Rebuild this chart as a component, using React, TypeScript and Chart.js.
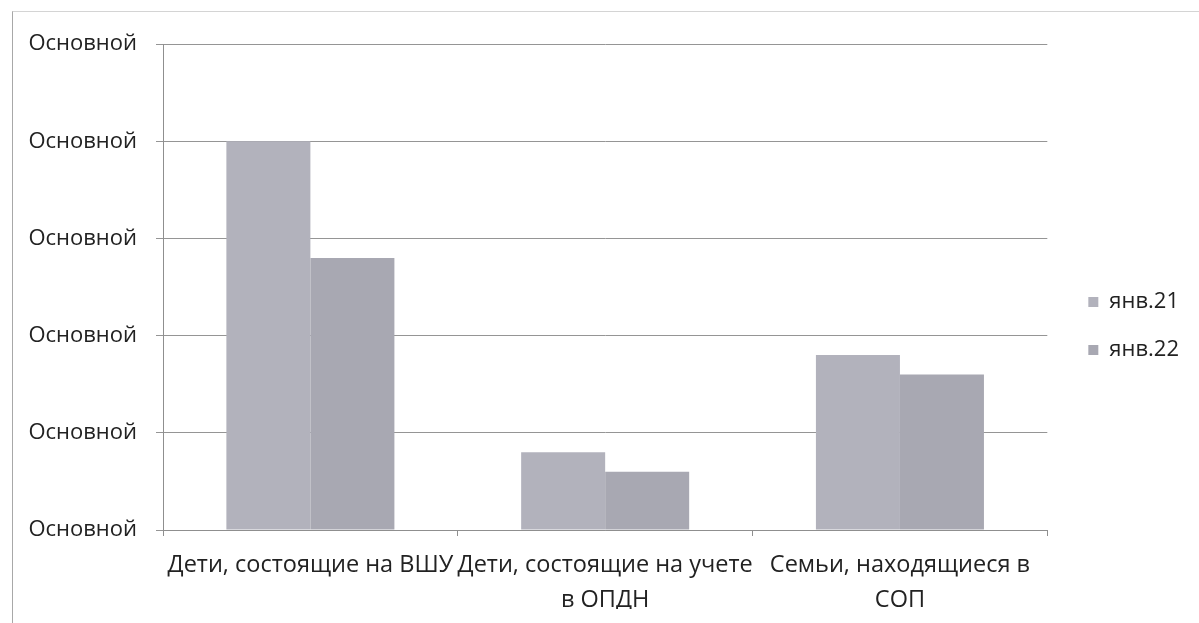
import React, { useEffect, useRef } from 'react';
import { Chart, registerables } from 'chart.js';

Chart.register(...registerables);

const categories: (string | string[])[] = [
  'Дети, состоящие на ВШУ',
  ['Дети, состоящие на учете', 'в ОПДН'],
  ['Семьи, находящиеся в', 'СОП'],
];
const seriesNames = ['янв.21', 'янв.22'];
const jan21Values = [20, 4, 9];
const jan22Values = [14, 3, 8];
const yMin = 0;
const yMax = 25;
const yStep = 5;
const yTickLabel = 'Основной';

const FONT = '"Open Sans", "Noto Sans", sans-serif';
const TEXT = '#222222';

export default function App() {
  const ref = useRef<HTMLCanvasElement | null>(null);

  useEffect(() => {
    if (!ref.current) return;
    const chart = new Chart(ref.current, {
      type: 'bar',
      data: {
        labels: categories,
        datasets: [
          {
            label: seriesNames[0],
            data: jan21Values,
            backgroundColor: 'rgb(178,178,188)',
            borderWidth: 0,
            categoryPercentage: 0.57,
            barPercentage: 1,
          },
          {
            label: seriesNames[1],
            data: jan22Values,
            backgroundColor: 'rgb(168,168,178)',
            borderWidth: 0,
            categoryPercentage: 0.57,
            barPercentage: 1,
          },
        ],
      },
      options: {
        responsive: false,
        animation: false,
        events: [],
        layout: { padding: { top: 31, right: 10, bottom: 14, left: 0 } },
        plugins: {
          title: { display: false },
          tooltip: { enabled: false },
          legend: {
            display: true,
            position: 'right',
            align: 'center',
            labels: {
              boxWidth: 10,
              boxHeight: 10,
              padding: 26,
              color: TEXT,
              font: { family: FONT, size: 22 },
            },
          },
        },
        scales: {
          x: {
            type: 'category',
            offset: true,
            grid: {
              offset: true,
              drawOnChartArea: false,
              drawTicks: true,
              tickLength: 6,
              color: '#8f8f8f',
            },
            border: { display: true, color: '#8f8f8f', width: 1 },
            ticks: {
              color: TEXT,
              font: { family: FONT, size: 23.5, lineHeight: '35px' },
              padding: 12,
              maxRotation: 0,
              minRotation: 0,
              autoSkip: false,
            },
            afterFit: (s: any) => {
              s.height = 79;
            },
          },
          y: {
            type: 'linear',
            position: 'left',
            min: yMin,
            max: yMax,
            ticks: {
              stepSize: yStep,
              color: TEXT,
              font: { family: FONT, size: 22 },
              padding: 19,
              callback: () => yTickLabel,
            },
            grid: {
              color: '#959595',
              lineWidth: 1,
              drawTicks: true,
              tickLength: 7,
            },
            border: { display: true, color: '#8f8f8f', width: 1 },
            afterFit: (s: any) => {
              s.width = 150;
            },
          },
          gap: {
            type: 'linear',
            position: 'right',
            display: true,
            grid: { display: false, drawTicks: false },
            border: { display: false },
            ticks: { display: false },
            afterFit: (s: any) => {
              s.width = 15;
            },
          },
        },
      },
    } as any);
    return () => chart.destroy();
  }, []);

  return (
    <div
      style={{
        position: 'absolute',
        left: 12,
        top: 11,
        borderLeft: '1px solid #a8a8a8',
        borderTop: '1px solid #d4d4d4',
        background: '#fff',
      }}
    >
      <canvas ref={ref} width={1186} height={611} style={{ display: 'block' }} />
    </div>
  );
}
